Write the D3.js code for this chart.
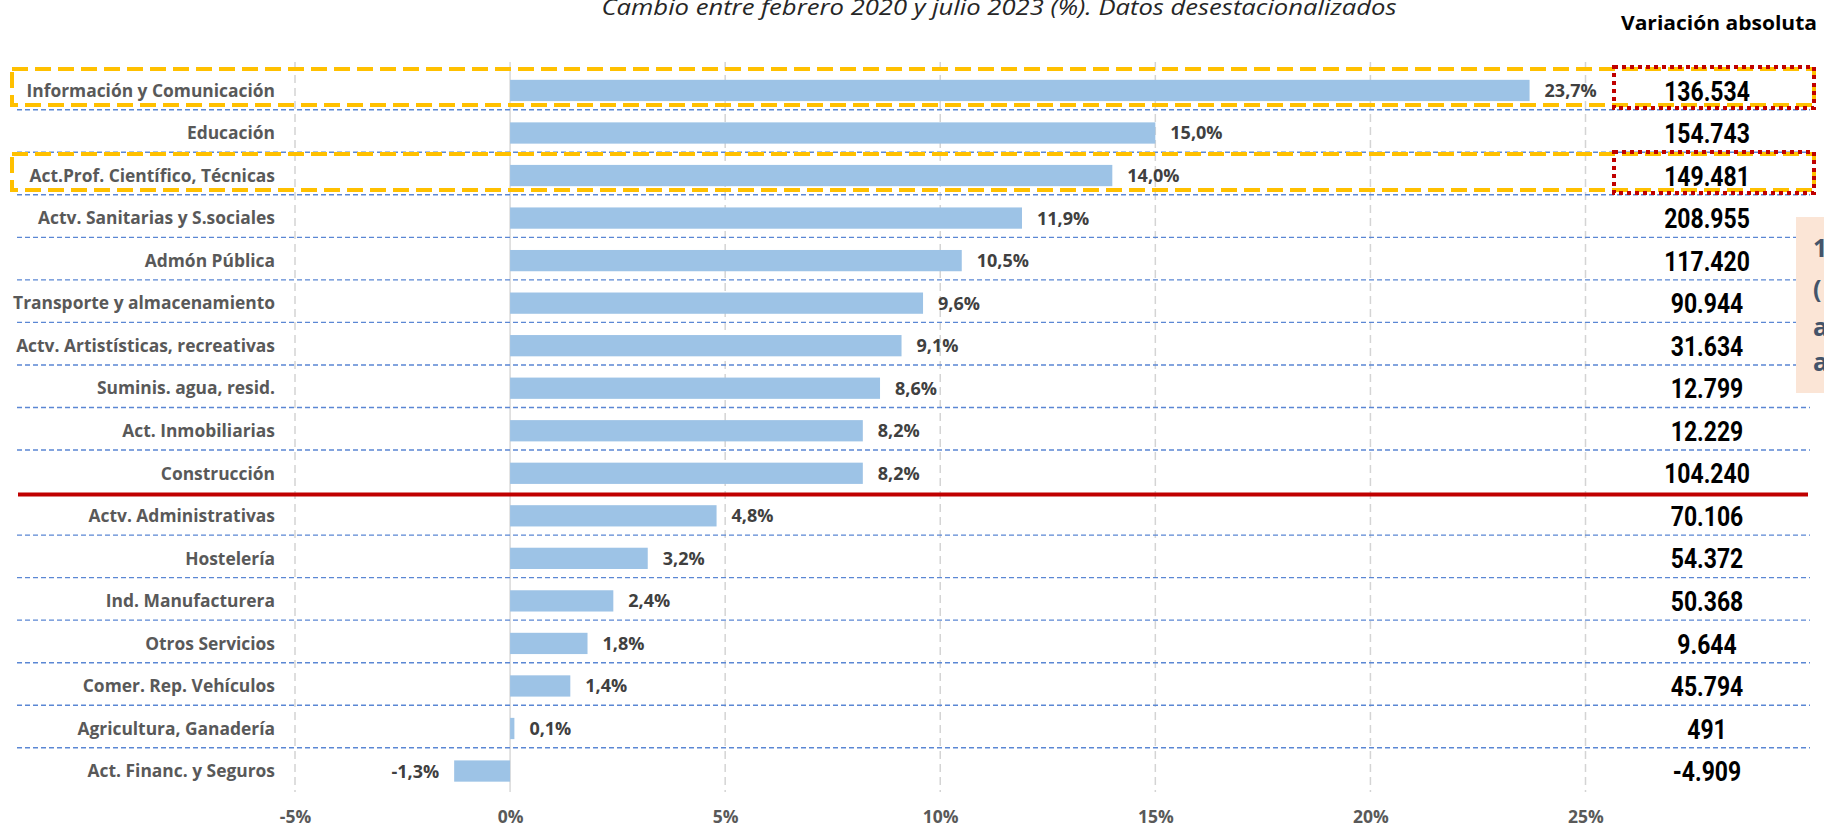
<!DOCTYPE html>
<html><head><meta charset="utf-8">
<script src="https://cdn.jsdelivr.net/npm/d3@7"></script>
<style>body{margin:0;background:#fff;overflow:hidden} svg{display:block}</style>
</head><body><svg id="c" width="1824" height="827"></svg>
<script>
// ---- data ----
const categories = [
  "Información y Comunicación","Educación","Act.Prof. Científico, Técnicas",
  "Actv. Sanitarias y S.sociales","Admón Pública","Transporte y almacenamiento",
  "Actv. Artistísticas, recreativas","Suminis. agua, resid.","Act. Inmobiliarias",
  "Construcción","Actv. Administrativas","Hostelería","Ind. Manufacturera",
  "Otros Servicios","Comer. Rep. Vehículos","Agricultura, Ganadería","Act. Financ. y Seguros"
];
const pctChange = [23.7,15.0,14.0,11.9,10.5,9.6,9.1,8.6,8.2,8.2,4.8,3.2,2.4,1.8,1.4,0.1,-1.3];
const absChange = [136534,154743,149481,208955,117420,90944,31634,12799,12229,104240,70106,54372,50368,9644,45794,491,-4909];
const xTicks = [-5,0,5,10,15,20,25];
const highlighted = ["Información y Comunicación","Act.Prof. Científico, Técnicas"];
const thresholdAfter = "Construcción";
const titleText = "Cambio entre febrero 2020 y julio 2023 (%). Datos desestacionalizados";
const columnHeader = "Variación absoluta";
const noteLines = ["1","(","a","a"];

// ---- setup ----
const svg = d3.select("#c");
const loc = d3.formatLocale({decimal:",", thousands:".", grouping:[3], currency:["","€"], minus:"-"});
const fmtPct = loc.format(".1f");
const fmtAbs = loc.format(",d");
const FONT = "'Open Sans', 'Noto Sans', sans-serif";

const x = d3.scaleLinear().domain([-5,25]).range([295,1585.5]);
const y = d3.scaleBand().domain(categories).range([69.2,792.3]).paddingInner(0.5).paddingOuter(0.25);
const step = y.step();
const cy = c => y(c) + y.bandwidth()/2;

// title
svg.append("text").attr("x",999).attr("y",15).attr("text-anchor","middle")
  .attr("font-family",FONT).attr("font-style","italic").attr("font-size",21)
  .attr("fill","#262626").attr("textLength",795).attr("lengthAdjust","spacingAndGlyphs")
  .text(titleText);

// column header
svg.append("text").attr("x",1719).attr("y",30).attr("text-anchor","middle")
  .attr("font-family",FONT).attr("font-weight","bold").attr("font-size",19)
  .attr("fill","#000").attr("textLength",196).attr("lengthAdjust","spacingAndGlyphs")
  .text(columnHeader);

// vertical gridlines
const grid = svg.append("g");
grid.selectAll("line").data(xTicks).join("line")
  .attr("x1",d=>x(d)).attr("x2",d=>x(d)).attr("y1",62).attr("y2",792)
  .attr("stroke",d=> d===0 ? "#d9d9d9" : "#d4d4d4")
  .attr("stroke-width",1.5)
  .attr("stroke-dasharray",d=> d===0 ? null : "8,5");

// row separators (blue dashed)
const seps = categories.slice(0,-1).filter(c=>c!==thresholdAfter);
svg.append("g").selectAll("line").data(seps).join("line")
  .attr("x1",17).attr("x2",1810)
  .attr("y1",c=>y(c)+y.bandwidth()+step*0.25-2).attr("y2",c=>y(c)+y.bandwidth()+step*0.25-2)
  .attr("stroke","#5b87d4").attr("stroke-width",1.4).attr("stroke-dasharray","5,3");

// threshold red line
const ty = y(thresholdAfter)+y.bandwidth()+step*0.25;
svg.append("line").attr("x1",18).attr("x2",1808).attr("y1",ty).attr("y2",ty)
  .attr("stroke","#c00000").attr("stroke-width",4);

// bars
svg.append("g").selectAll("rect").data(categories).join("rect")
  .attr("x",(c,i)=>x(Math.min(0,pctChange[i])))
  .attr("width",(c,i)=>Math.abs(x(pctChange[i])-x(0)))
  .attr("y",c=>y(c)).attr("height",y.bandwidth())
  .attr("fill","#9dc3e6");

// value labels
svg.append("g").selectAll("text").data(categories).join("text")
  .attr("x",(c,i)=> pctChange[i]>=0 ? x(pctChange[i])+15 : x(pctChange[i])-15)
  .attr("y",c=>cy(c)).attr("dy","0.36em")
  .attr("text-anchor",(c,i)=> pctChange[i]>=0 ? "start" : "end")
  .attr("font-family",FONT).attr("font-weight","bold").attr("font-size",18)
  .attr("fill","#404040")
  .text((c,i)=>fmtPct(pctChange[i])+"%");

// category labels
svg.append("g").selectAll("text").data(categories).join("text")
  .attr("x",275).attr("y",c=>cy(c)).attr("dy","0.36em").attr("text-anchor","end")
  .attr("font-family",FONT).attr("font-weight","bold").attr("font-size",17.4)
  .attr("fill","#595959").text(c=>c);

// x axis labels
const xAxis = d3.axisBottom(x).tickValues(xTicks).tickFormat(d=>d+"%").tickSize(0).tickPadding(0);
const gx = svg.append("g").attr("transform","translate(0,811)").call(xAxis);
gx.select(".domain").remove();
gx.selectAll("text").attr("font-family",FONT).attr("font-weight","bold").attr("font-size",17.5)
  .attr("fill","#595959");

// absolute variation column
svg.append("g").selectAll("text").data(categories).join("text")
  .attr("transform",c=>`translate(1707,${cy(c)}) scale(0.82,1)`)
  .attr("dy","0.36em").attr("text-anchor","middle")
  .attr("font-family","Roboto, sans-serif").attr("font-weight","bold").attr("font-size",28)
  .attr("fill","#000").text((c,i)=>fmtAbs(absChange[i]));

// highlight boxes (yellow dashed)
svg.append("g").selectAll("rect").data(highlighted).join("rect")
  .attr("x",12).attr("width",1802)
  .attr("y",c=>cy(c)-21.5).attr("height",36)
  .attr("fill","none").attr("stroke","#ffc000").attr("stroke-width",4)
  .attr("stroke-dasharray","16,7");

// red dotted boxes around values
svg.append("g").selectAll("rect").data(highlighted).join("rect")
  .attr("x",1614).attr("width",200)
  .attr("y",c=>cy(c)-23.5).attr("height",41)
  .attr("fill","none").attr("stroke","#c00000").attr("stroke-width",4)
  .attr("stroke-dasharray","4,4");

// note box at the right edge
const note = svg.append("g");
note.append("rect").attr("x",1796).attr("y",217).attr("width",60).attr("height",176).attr("fill","#fbe5d6");
note.selectAll("text").data(noteLines).join("text")
  .attr("x",1813).attr("y",(d,i)=>[248,289,327,362][i]).attr("dy","0.36em")
  .attr("font-family",FONT).attr("font-weight","bold").attr("font-size",25)
  .attr("fill","#44546a").text(d=>d);
</script></body></html>
